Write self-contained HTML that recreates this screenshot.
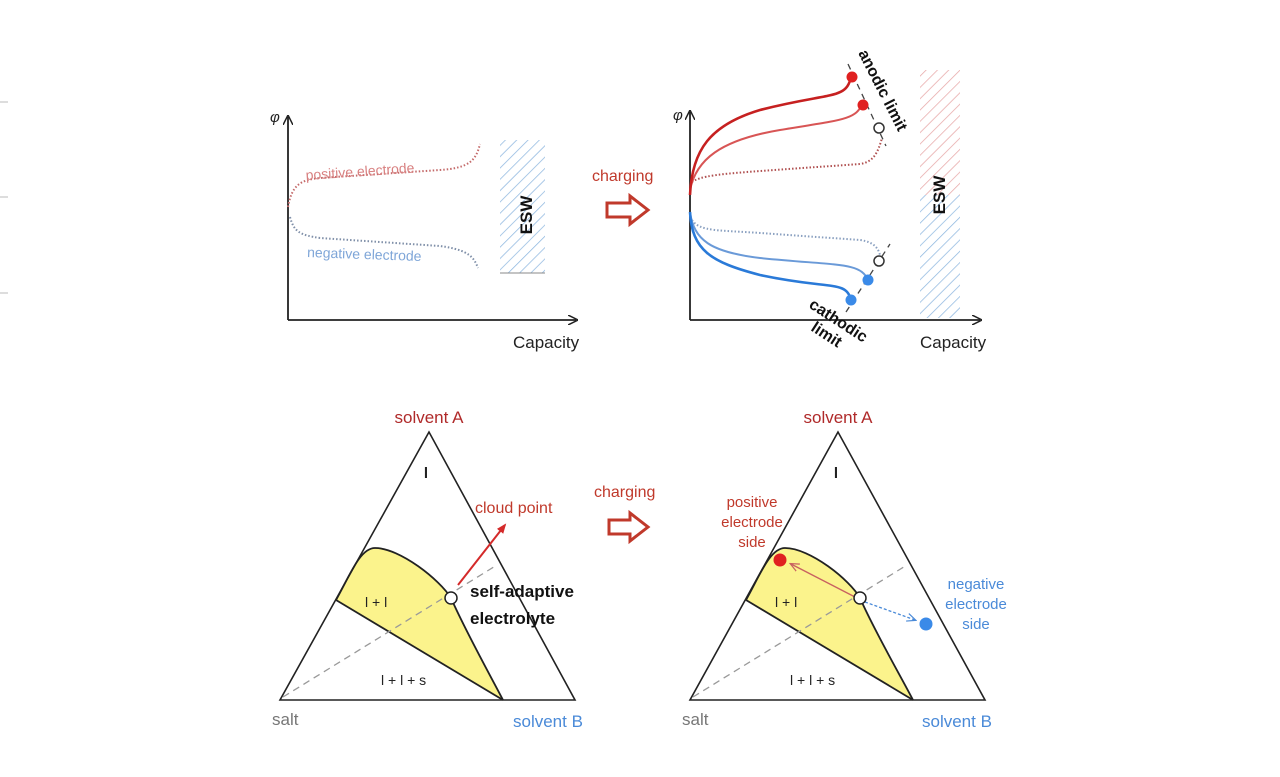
<!DOCTYPE html>
<html><head><meta charset="utf-8"><style>
html,body{margin:0;padding:0;background:#fff;}
svg{display:block}
text{font-family:"Liberation Sans",Arial,sans-serif;}
</style></head><body>
<svg width="1280" height="777" viewBox="0 0 1280 777" xmlns="http://www.w3.org/2000/svg">
<defs>
<pattern id="hb" width="8" height="8" patternUnits="userSpaceOnUse" patternTransform="rotate(45)"><line x1="0" y1="0" x2="0" y2="8" stroke="#8fb8e0" stroke-width="1.5"/></pattern>
<pattern id="hr" width="8" height="8" patternUnits="userSpaceOnUse" patternTransform="rotate(45)"><line x1="0" y1="0" x2="0" y2="8" stroke="#e8a8a8" stroke-width="1.5"/></pattern>
<marker id="ar" markerWidth="10" markerHeight="10" refX="8" refY="5" orient="auto" markerUnits="userSpaceOnUse"><path d="M0,0 L10,5 L0,10" fill="none" stroke="#222" stroke-width="1.5"/></marker>
<marker id="rr" markerWidth="10" markerHeight="10" refX="8" refY="5" orient="auto" markerUnits="userSpaceOnUse"><path d="M0,1 L10,5 L0,9 z" fill="#d42a2a"/></marker>
<marker id="rr2" markerWidth="10" markerHeight="10" refX="8" refY="5" orient="auto" markerUnits="userSpaceOnUse"><path d="M0,1 L9,5 L0,9" fill="none" stroke="#c86060" stroke-width="1.2"/></marker>
<marker id="bb" markerWidth="10" markerHeight="10" refX="8" refY="5" orient="auto" markerUnits="userSpaceOnUse"><path d="M0,1 L9,5 L0,9" fill="none" stroke="#4a8ad8" stroke-width="1.2"/></marker>
</defs>
<g stroke="#ddd" stroke-width="2"><line x1="0" y1="102" x2="8" y2="102"/><line x1="0" y1="197" x2="8" y2="197"/><line x1="0" y1="293" x2="8" y2="293"/></g>

<!-- left chart -->
<rect x="500" y="140" width="45" height="133" fill="url(#hb)"/>
<line x1="500" y1="273" x2="545" y2="273" stroke="#888" stroke-width="1"/>
<text transform="translate(532,215) rotate(-90)" text-anchor="middle" font-size="17" font-weight="bold" fill="#111">ESW</text>
<line x1="288" y1="320" x2="288" y2="117" stroke="#222" stroke-width="1.8" marker-end="url(#ar)"/>
<line x1="288" y1="320" x2="576" y2="320" stroke="#222" stroke-width="1.8" marker-end="url(#ar)"/>
<text x="270" y="122" font-size="15" font-style="italic" fill="#222">φ</text>
<text x="513" y="348" font-size="17" fill="#222">Capacity</text>
<path d="M288,207 C292,185 300,180 320,178 L440,170 C470,168 476,160 480,144" fill="none" stroke="#c46a6a" stroke-width="2" stroke-dasharray="1.5,2"/>
<path d="M290,217 C294,232 300,235 320,238 L440,246 C470,250 474,258 478,268" fill="none" stroke="#7f8fa8" stroke-width="2" stroke-dasharray="1.5,2"/>
<text transform="translate(306,180) rotate(-4)" font-size="14" fill="#d88080">positive electrode</text>
<text transform="translate(307,257) rotate(2)" font-size="14" fill="#7fa6d8">negative electrode</text>

<!-- charging arrow top -->
<text x="592" y="181" font-size="16" fill="#c0392b">charging</text>
<path d="M607,203 L630,203 L630,196 L648,210 L630,224 L630,217 L607,217 Z" fill="#fff" stroke="#c0392b" stroke-width="3"/>

<!-- right chart -->
<rect x="920" y="70" width="40" height="125" fill="url(#hr)"/>
<rect x="920" y="195" width="40" height="123" fill="url(#hb)"/>
<text transform="translate(945,195) rotate(-90)" text-anchor="middle" font-size="17" font-weight="bold" fill="#111">ESW</text>
<line x1="690" y1="320" x2="690" y2="112" stroke="#222" stroke-width="1.8" marker-end="url(#ar)"/>
<line x1="690" y1="320" x2="980" y2="320" stroke="#222" stroke-width="1.8" marker-end="url(#ar)"/>
<text x="673" y="120" font-size="15" font-style="italic" fill="#222">φ</text>
<text x="920" y="348" font-size="17" fill="#222">Capacity</text>
<path d="M692,182 C700,176 720,174 760,171 L860,164 C874,162 878,152 882,138" fill="none" stroke="#b05050" stroke-width="2" stroke-dasharray="1.5,2"/>
<path d="M690,190 C696,160 720,140 780,130 C840,120 856,120 862,104" fill="none" stroke="#d85555" stroke-width="2"/>
<path d="M690,195 C692,150 710,125 760,110 C830,92 846,100 851,77" fill="none" stroke="#c62020" stroke-width="2.6"/>
<path d="M692,220 C700,232 720,230 760,233 L860,240 C874,242 878,248 880,255" fill="none" stroke="#8aa0c0" stroke-width="2" stroke-dasharray="1.5,2"/>
<path d="M690,212 C694,240 710,252 760,258 C840,266 860,262 868,280" fill="none" stroke="#6a9ad8" stroke-width="2"/>
<path d="M690,212 C692,250 710,262 760,275 C830,290 846,280 851,300" fill="none" stroke="#2a7ad8" stroke-width="2.6"/>
<line x1="848" y1="64" x2="886" y2="146" stroke="#444" stroke-width="1.3" stroke-dasharray="6,5"/>
<line x1="846" y1="312" x2="890" y2="244" stroke="#444" stroke-width="1.3" stroke-dasharray="6,5"/>
<circle cx="852" cy="77" r="5.5" fill="#e02020"/>
<circle cx="863" cy="105" r="5.5" fill="#e02020"/>
<circle cx="879" cy="128" r="5" fill="#fff" stroke="#333" stroke-width="1.5"/>
<circle cx="879" cy="261" r="5" fill="#fff" stroke="#333" stroke-width="1.5"/>
<circle cx="868" cy="280" r="5.5" fill="#3a8ae8"/>
<circle cx="851" cy="300" r="5.5" fill="#3a8ae8"/>
<text transform="translate(858,53) rotate(63)" font-size="16" font-weight="bold" fill="#111">anodic limit</text>
<text transform="translate(808,307) rotate(33)" font-size="16" font-weight="bold" fill="#111">cathodic</text>
<text transform="translate(810,330) rotate(33)" font-size="16" font-weight="bold" fill="#111">limit</text>

<!-- left triangle -->
<path d="M336,600 C350,575 360,548 375,548 C400,548 440,580 451,598 C465,630 490,675 503,700 Z" fill="#fbf38c"/>
<path d="M336,600 C350,575 360,548 375,548 C400,548 440,580 451,598 C465,630 490,675 503,700" fill="none" stroke="#222" stroke-width="1.8"/>
<line x1="336" y1="600" x2="503" y2="700" stroke="#222" stroke-width="1.8"/>
<polygon points="429,432 280,700 575,700" fill="none" stroke="#222" stroke-width="1.6"/>
<line x1="283" y1="697" x2="497" y2="565" stroke="#999" stroke-width="1.3" stroke-dasharray="7,5"/>
<line x1="458" y1="585" x2="505" y2="525" stroke="#d42a2a" stroke-width="2" marker-end="url(#rr)"/>
<circle cx="451" cy="598" r="6" fill="#fff" stroke="#222" stroke-width="1.5"/>
<text x="429" y="423" text-anchor="middle" font-size="17" fill="#b02a2a">solvent A</text>
<text x="426" y="478" text-anchor="middle" font-size="15" font-weight="bold" fill="#222">l</text>
<text x="475" y="513" font-size="16" fill="#c0392b">cloud point</text>
<text x="470" y="597" font-size="17" font-weight="bold" fill="#111">self-adaptive</text>
<text x="470" y="624" font-size="17" font-weight="bold" fill="#111">electrolyte</text>
<text x="365" y="607" font-size="14" fill="#222">l + l</text>
<text x="381" y="685" font-size="14" fill="#222">l + l + s</text>
<text x="272" y="725" font-size="17" fill="#777">salt</text>
<text x="513" y="727" font-size="17" fill="#4a8ad8">solvent B</text>

<!-- charging arrow bottom -->
<text x="594" y="497" font-size="16" fill="#c0392b">charging</text>
<path d="M609,520 L630,520 L630,513 L648,527 L630,541 L630,534 L609,534 Z" fill="#fff" stroke="#c0392b" stroke-width="3"/>

<!-- right triangle -->
<path d="M746,600 C760,575 770,548 785,548 C810,548 850,580 860,598 C874,630 900,675 913,700 Z" fill="#fbf38c"/>
<path d="M746,600 C760,575 770,548 785,548 C810,548 850,580 860,598 C874,630 900,675 913,700" fill="none" stroke="#222" stroke-width="1.8"/>
<line x1="746" y1="600" x2="913" y2="700" stroke="#222" stroke-width="1.8"/>
<polygon points="838,432 690,700 985,700" fill="none" stroke="#222" stroke-width="1.6"/>
<line x1="693" y1="697" x2="907" y2="565" stroke="#999" stroke-width="1.3" stroke-dasharray="7,5"/>
<line x1="855" y1="597" x2="791" y2="564" stroke="#c86060" stroke-width="1.3" marker-end="url(#rr2)"/>
<line x1="865" y1="602" x2="915" y2="620" stroke="#4a8ad8" stroke-width="1.3" stroke-dasharray="3,2" marker-end="url(#bb)"/>
<circle cx="780" cy="560" r="6.5" fill="#e02020"/>
<circle cx="926" cy="624" r="6.5" fill="#3a8ae8"/>
<circle cx="860" cy="598" r="6" fill="#fff" stroke="#222" stroke-width="1.5"/>
<text x="838" y="423" text-anchor="middle" font-size="17" fill="#b02a2a">solvent A</text>
<text x="836" y="478" text-anchor="middle" font-size="15" font-weight="bold" fill="#222">l</text>
<text x="752" y="507" text-anchor="middle" font-size="15" fill="#c0392b">positive</text>
<text x="752" y="527" text-anchor="middle" font-size="15" fill="#c0392b">electrode</text>
<text x="752" y="547" text-anchor="middle" font-size="15" fill="#c0392b">side</text>
<text x="976" y="589" text-anchor="middle" font-size="15" fill="#4a8ad8">negative</text>
<text x="976" y="609" text-anchor="middle" font-size="15" fill="#4a8ad8">electrode</text>
<text x="976" y="629" text-anchor="middle" font-size="15" fill="#4a8ad8">side</text>
<text x="775" y="607" font-size="14" fill="#222">l + l</text>
<text x="790" y="685" font-size="14" fill="#222">l + l + s</text>
<text x="682" y="725" font-size="17" fill="#777">salt</text>
<text x="922" y="727" font-size="17" fill="#4a8ad8">solvent B</text>
</svg>
</body></html>
